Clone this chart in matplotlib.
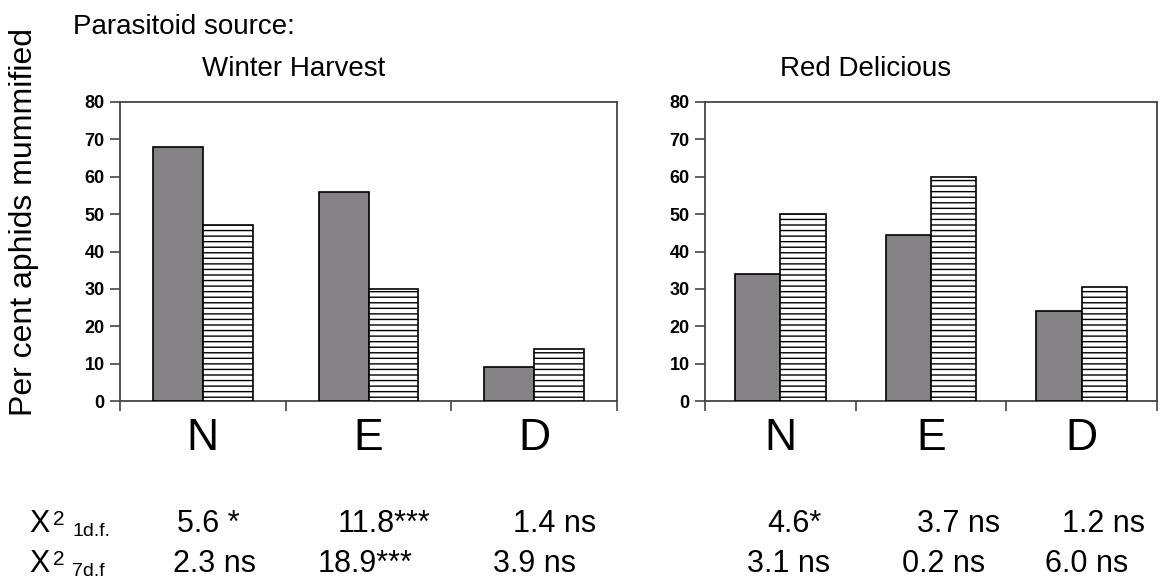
import matplotlib
matplotlib.use("Agg")
import matplotlib.pyplot as plt
import numpy as np

plt.rcParams['font.family'] = ['Liberation Sans', 'DejaVu Sans']
plt.rcParams['hatch.linewidth'] = 1.0

categories = ["N", "E", "D"]
wh_solid = [68, 56, 9]
wh_hatched = [47, 30, 14]
rd_solid = [34, 44.5, 24]
rd_hatched = [50, 60, 30.5]
yticks = [0, 10, 20, 30, 40, 50, 60, 70, 80]

chi_1df_wh = ["5.6 *", "11.8***", "1.4 ns"]
chi_7df_wh = ["2.3 ns", "18.9***", "3.9 ns"]
chi_1df_rd = ["4.6*", "3.7 ns", "1.2 ns"]
chi_7df_rd = ["3.1 ns", "0.2 ns", "6.0 ns"]

W, H = 1161, 582
fig = plt.figure(figsize=(W / 100, H / 100), dpi=100)

def fx(px):
    return px / W

def fy(py):
    return 1 - py / H

def make_panel(rect, solid, hatched):
    ax = fig.add_axes(rect)
    x = np.arange(len(categories)) + 0.5
    bw = 0.3
    ax.bar(x - bw / 2, solid, width=bw, color='#858285', edgecolor='black', linewidth=1.2, zorder=3)
    ax.bar(x + bw / 2, hatched, width=bw, color='white', edgecolor='black', linewidth=1.2,
           hatch='---', zorder=3)
    ax.set_xlim(0, len(categories))
    ax.set_ylim(0, 80)
    ax.set_yticks(yticks)
    ax.set_yticklabels([str(v) for v in yticks], fontsize=13, fontweight='bold')
    ax.set_xticks(np.arange(len(categories) + 1))
    ax.set_xticklabels([])
    ax.set_xticks(x, minor=True)
    ax.set_xticklabels(categories, minor=True, fontsize=32)
    ax.tick_params(axis='x', which='minor', length=0, pad=12)
    ax.tick_params(axis='x', which='major', direction='out', length=7, width=1.2, color='#444444')
    ax.tick_params(axis='y', direction='out', length=7, width=1.2, color='#444444', pad=4)
    for s in ax.spines.values():
        s.set_color('#444444')
        s.set_linewidth(1.3)
    return ax

ax1 = make_panel([fx(120), fy(401), fx(617 - 120), (401 - 102) / H], wh_solid, wh_hatched)
ax2 = make_panel([fx(705), fy(401), fx(1157 - 705), (401 - 102) / H], rd_solid, rd_hatched)

fig.text(fx(73), fy(34), "Parasitoid source:", fontsize=20, ha='left', va='baseline')
fig.text(fx(294), fy(76), "Winter Harvest", fontsize=20, ha='center', va='baseline')
fig.text(fx(866), fy(76), "Red Delicious", fontsize=20, ha='center', va='baseline')
fig.text(fx(24), fy(222), "Per cent aphids mummified", fontsize=23, rotation=90,
         ha='center', va='center')

# chi-square rows
rows = [(532, "1d.f."), (572, "7d.f")]
for by, sub in rows:
    fig.text(fx(29), fy(by), "\u03a7", fontsize=22, ha='left', va='baseline')
    fig.text(fx(53), fy(by - 7), "2", fontsize=15, ha='left', va='baseline')
    fig.text(fx(72), fy(by + 4), sub, fontsize=14, ha='left', va='baseline')

row1_x = [177, 338, 513, 767, 917, 1062]
row2_x = [173, 318, 493, 747, 902, 1045]
for xp, t in zip(row1_x, chi_1df_wh + chi_1df_rd):
    fig.text(fx(xp), fy(532), t, fontsize=22, ha='left', va='baseline')
for xp, t in zip(row2_x, chi_7df_wh + chi_7df_rd):
    fig.text(fx(xp), fy(572), t, fontsize=22, ha='left', va='baseline')

fig.savefig("out.png", dpi=100)
